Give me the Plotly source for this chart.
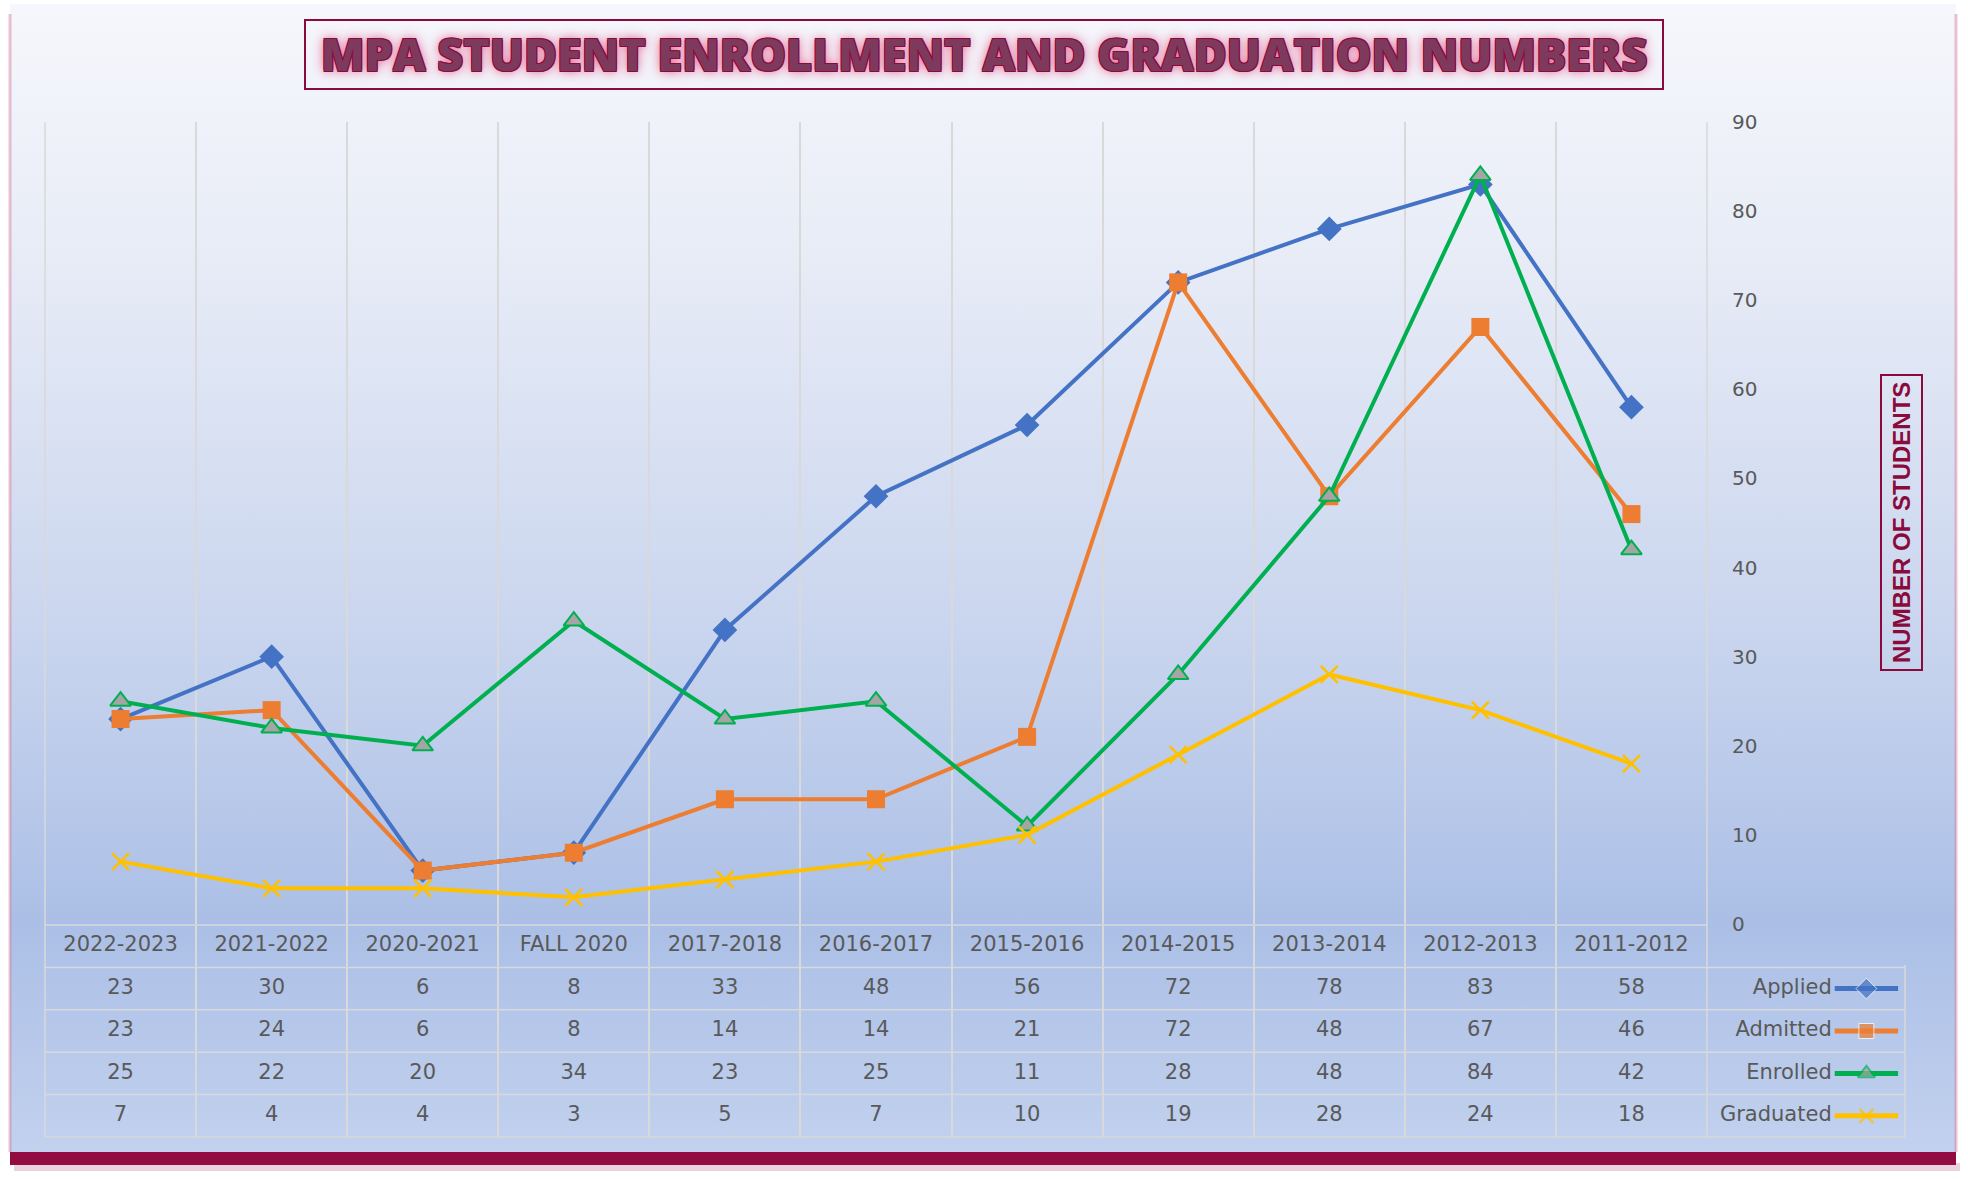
import plotly.graph_objects as go

# ---------------- data ----------------
categories = ["2011-2012", "2012-2013", "2013-2014", "2014-2015", "2015-2016",
              "2016-2017", "2017-2018", "FALL 2020", "2020-2021", "2021-2022", "2022-2023"]
applied = [58, 83, 78, 72, 56, 48, 33, 8, 6, 30, 23]
admitted = [46, 67, 48, 72, 21, 14, 14, 8, 6, 24, 23]
enrolled = [42, 84, 48, 28, 11, 25, 23, 34, 20, 22, 25]
graduated = [18, 24, 28, 19, 10, 7, 5, 3, 4, 4, 7]
series_names = ["Applied", "Admitted", "Enrolled", "Graduated"]
y_ticks = [0, 10, 20, 30, 40, 50, 60, 70, 80, 90]
title_text = "MPA STUDENT ENROLLMENT AND GRADUATION NUMBERS"
y_title = "NUMBER OF STUDENTS"
cat_row = "Category"

# ---------------- layout constants (pixels) ----------------
W, H = 1968, 1179
PX_L, PX_R = 45, 1707          # plot / table columns
LEG_R = 1905                    # legend column right edge
PY_T, PY_B = 122, 924           # plot area top / bottom
TB_T, TB_B = 925, 1137          # table top / bottom
CARD_L, CARD_R, CARD_T, CARD_B = 10, 1956, 4, 1152


def fx(px):
    return px / W


def fy(py):
    return 1 - py / H


GRID = "#D9D9D9"
TXT = "#595959"
CRIMSON = "#8B0A3C"
FONT = "DejaVu Sans"
TFS = 21

colors = {"Applied": "#4472C4", "Admitted": "#ED7D31",
          "Enrolled": "#00B050", "Graduated": "#FFC000"}
markers = {
    "Applied": dict(symbol="diamond", size=19, color="#4472C4"),
    "Admitted": dict(symbol="square", size=18, color="#ED7D31"),
    "Enrolled": dict(symbol="triangle-up", size=18, color="#A5A5A5",
                     line=dict(color="#00B050", width=2)),
    "Graduated": dict(symbol="x-thin", size=17, color="#FFC000",
                      line=dict(color="#FFC000", width=2.5)),
}
values = {"Applied": applied, "Admitted": admitted,
          "Enrolled": enrolled, "Graduated": graduated}

fig = go.Figure()

# background card with vertical gradient (on full-page pixel axes x/y)
fig.add_trace(go.Scatter(
    x=[CARD_L, CARD_R, CARD_R, CARD_L, CARD_L],
    y=[CARD_T, CARD_T, CARD_B, CARD_B, CARD_T],
    mode="lines", line=dict(width=0), fill="toself",
    fillgradient=dict(type="vertical",
                      colorscale=[[0, "#F6F7FC"], [0.2, "#E9EDF7"], [0.55, "#C9D5EE"],
                                  [0.8, "#ABBFE6"], [1, "#C2D1EE"]],
                      start=CARD_T, stop=CARD_B),
    hoverinfo="skip", showlegend=False, xaxis="x", yaxis="y"))

# series lines
for name in series_names:
    fig.add_trace(go.Scatter(
        x=categories, y=values[name], name=name, mode="lines+markers",
        line=dict(color=colors[name], width=4),
        marker=markers[name], cliponaxis=False, showlegend=False,
        xaxis="x2", yaxis="y2"))

# data table: category row and one row per series
rows = [cat_row] + series_names
fig.add_trace(go.Scatter(
    x=categories, y=[cat_row] * len(categories), mode="text", text=categories,
    textfont=dict(family=FONT, size=TFS, color=TXT), textposition="middle center",
    hoverinfo="skip", showlegend=False, xaxis="x2", yaxis="y3"))
for name in series_names:
    fig.add_trace(go.Scatter(
        x=categories, y=[name] * len(categories), mode="text",
        text=[str(v) for v in values[name]],
        textfont=dict(family=FONT, size=TFS, color=TXT), textposition="middle center",
        hoverinfo="skip", showlegend=False, xaxis="x2", yaxis="y3"))

# legend keys in the table's legend column
for name in series_names:
    mk = dict(markers[name])
    mk["size"] = [0, mk["size"] - 3, 0]
    fig.add_trace(go.Scatter(
        x=[0.645, 0.805, 0.965], y=[name] * 3, mode="lines+markers",
        line=dict(color=colors[name], width=5), marker=mk,
        hoverinfo="skip", showlegend=False, cliponaxis=False,
        xaxis="x3", yaxis="y3"))
    fig.add_trace(go.Scatter(
        x=[0.63], y=[name], mode="text", text=[name], textposition="middle left",
        textfont=dict(family=FONT, size=TFS, color=TXT),
        hoverinfo="skip", showlegend=False, cliponaxis=False,
        xaxis="x3", yaxis="y3"))

shapes = []
# card side edges, bottom band
for xx in (CARD_L, CARD_R):
    shapes.append(dict(type="line", xref="paper", yref="paper",
                       x0=fx(xx), x1=fx(xx), y0=fy(CARD_T + 10), y1=fy(CARD_B),
                       line=dict(color="rgba(210,120,150,0.45)", width=3), layer="above"))
shapes.append(dict(type="rect", xref="paper", yref="paper",
                   x0=fx(CARD_L + 4), x1=fx(CARD_R + 4), y0=fy(1171), y1=fy(1163),
                   fillcolor="rgba(139,10,60,0.18)", line=dict(width=0), layer="above"))
shapes.append(dict(type="rect", xref="paper", yref="paper",
                   x0=fx(CARD_L), x1=fx(CARD_R), y0=fy(1165), y1=fy(CARD_B),
                   fillcolor="#920C42", line=dict(width=0), layer="above"))
# title box
shapes.append(dict(type="rect", xref="paper", yref="paper",
                   x0=fx(305), x1=fx(1663), y0=fy(89), y1=fy(20),
                   line=dict(color=CRIMSON, width=2), fillcolor="rgba(0,0,0,0)", layer="above"))
# outer vertical lines of plot/table
for xx, y0, y1 in ((PX_L, PY_T, TB_B), (PX_R, PY_T, TB_B), (LEG_R, 965, TB_B)):
    shapes.append(dict(type="line", xref="paper", yref="paper",
                       x0=fx(xx), x1=fx(xx), y0=fy(y0), y1=fy(y1),
                       line=dict(color=GRID, width=1.5), layer="above"))
# horizontal table lines
row_h = (TB_B - TB_T) / len(rows)
for i in range(len(rows) + 1):
    yy = TB_T + i * row_h
    xr = PX_R if i == 0 else LEG_R
    shapes.append(dict(type="line", xref="paper", yref="paper",
                       x0=fx(PX_L), x1=fx(xr), y0=fy(yy), y1=fy(yy),
                       line=dict(color=GRID, width=1.5), layer="above"))

annotations = [
    dict(text=title_text, xref="paper", yref="paper", x=fx(984), y=fy(54),
         xanchor="center", yanchor="middle", showarrow=False,
         font=dict(family="Open Sans", size=45, weight=800, color="#7E3A5C",
                   shadow="1px 1px 0 #8B0A3C, -1px -1px 0 #8B0A3C, 1px -1px 0 #8B0A3C, "
                          "-1px 1px 0 #8B0A3C, 0 0 10px #E0709A, 0 0 16px #F2A9C3")),
    dict(text=y_title, xref="paper", yref="paper", x=fx(1901), y=fy(523),
         xanchor="center", yanchor="middle", showarrow=False, textangle=-90,
         font=dict(family="Liberation Sans Narrow, Arial Narrow, sans-serif",
                   size=24, weight=700, color=CRIMSON),
         bordercolor=CRIMSON, borderwidth=2, borderpad=6),
]

fig.update_layout(
    template="none",
    width=W, height=H, margin=dict(l=0, r=0, t=0, b=0, pad=0, autoexpand=False),
    paper_bgcolor="white", plot_bgcolor="rgba(0,0,0,0)",
    font=dict(family=FONT, color=TXT),
    showlegend=False, shapes=shapes, annotations=annotations,
    xaxis=dict(domain=[0, 1], range=[0, W], visible=False, fixedrange=True,
               automargin=False),
    yaxis=dict(domain=[0, 1], range=[H, 0], visible=False, fixedrange=True,
               automargin=False),
    xaxis2=dict(domain=[fx(PX_L), fx(PX_R)], anchor="y2", type="category",
                categoryorder="array", categoryarray=categories,
                range=[len(categories) - 0.5, -0.5], automargin=False,
                showgrid=True, gridcolor=GRID, gridwidth=1.5, tickson="boundaries",
                showticklabels=False, ticks="", showline=False, zeroline=False),
    yaxis2=dict(domain=[fy(PY_B), fy(PY_T)], anchor="x2", side="right",
                range=[0, 90], tickvals=y_ticks, showgrid=False, zeroline=False,
                showline=False, ticks="", ticklabelstandoff=24, automargin=False,
                tickfont=dict(family=FONT, size=20, color=TXT)),
    yaxis3=dict(domain=[fy(TB_B), fy(TB_T)], anchor="x2", type="category",
                categoryorder="array", categoryarray=rows, automargin=False,
                range=[len(rows) - 0.5, -0.5], visible=False),
    xaxis3=dict(domain=[fx(PX_R), fx(LEG_R)], anchor="y3", range=[0, 1],
                visible=False, automargin=False),
)

fig.write_html("out.html")
